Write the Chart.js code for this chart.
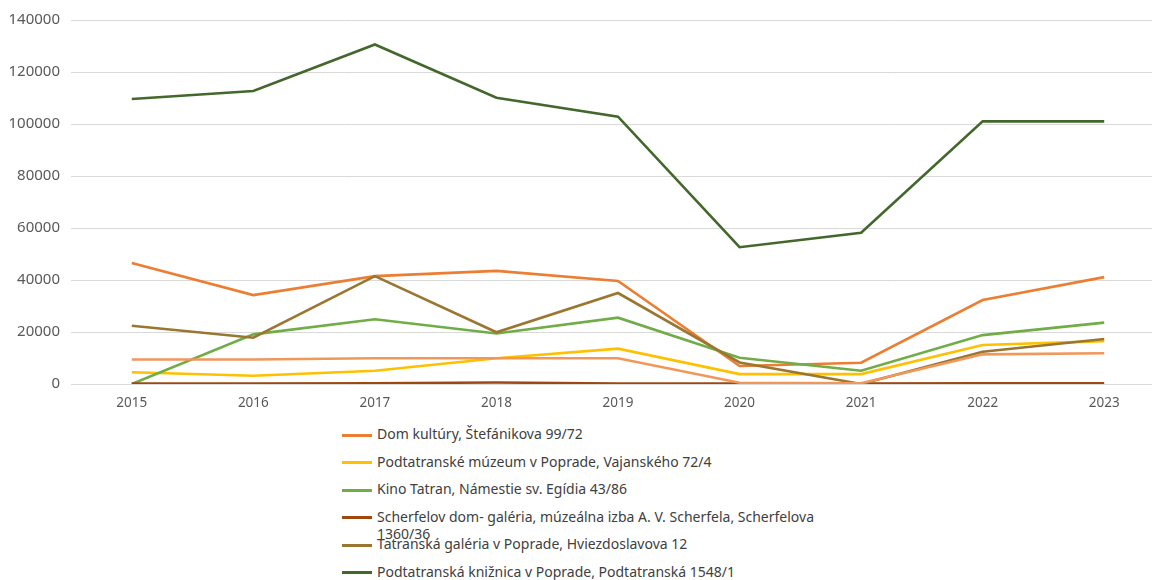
<!DOCTYPE html>
<html>
<head>
<meta charset="utf-8">
<script src="https://cdn.jsdelivr.net/npm/chart.js"></script>
<style>
	html, body { margin: 0; padding: 0; background: #fff; overflow: hidden; }
	#page { position: relative; width: 1152px; height: 580px; overflow: hidden; }
	#chart-box { position: absolute; left: 0; top: 0; width: 1165px; height: 410px; }
	#legend { position: absolute; left: 342px; top: 421px; width: 490px; margin: 0; padding: 0; list-style: none;
		font-family: "Noto Sans", sans-serif; font-size: 14px; color: #404040; }
	#legend li { position: relative; height: 27.5px; }
	#legend .swatch { position: absolute; left: 0; top: 12.5px; width: 30px; height: 3px; }
	#legend .text { position: absolute; left: 35px; top: 4px; line-height: 17px; width: 450px; }
</style>
</head>
<body>
<div id="page">
	<div id="chart-box"><canvas id="visits-chart"></canvas></div>
	<ul id="legend"></ul>
</div>
<script>
"use strict";

// visitors per year and venue
var years = ["2015", "2016", "2017", "2018", "2019", "2020", "2021", "2022", "2023"];

var domKultury      = [46500, 34200, 41500, 43500, 39600, 6900, 8200, 32300, 41100];
var podtatranskeMuz = [4500, 3200, 5100, 9900, 13600, 3800, 3800, 15000, 16500];
var kinoTatran      = [0, 19100, 24900, 19400, 25500, 10100, 5100, 18800, 23600];
var scherfelovDom   = [200, 200, 300, 600, 200, 200, 200, 300, 300];
var tatranskaGal    = [22400, 17800, 41500, 19900, 35000, 8300, 0, 12400, 17300];
var kniznica        = [109600, 112700, 130600, 110100, 102800, 52600, 58200, 101000, 101000];
var dalsieZariad    = [9400, 9400, 9900, 9900, 9900, 500, 300, 11400, 11800];

var seriesLabels = [
	"Dom kultúry, Štefánikova 99/72",
	"Podtatranské múzeum v Poprade, Vajanského 72/4",
	"Kino Tatran, Námestie sv. Egídia 43/86",
	"Scherfelov dom- galéria, múzeálna izba A. V.  Scherfela, Scherfelova 1360/36",
	"Tatranská galéria v Poprade, Hviezdoslavova 12",
	"Podtatranská knižnica v Poprade, Podtatranská 1548/1",
	""
];
var seriesValues = [domKultury, podtatranskeMuz, kinoTatran, scherfelovDom, tatranskaGal, kniznica, dalsieZariad];
var seriesColors = ["#ED7D31", "#FFC000", "#70AD47", "#9E480E", "#9A7630", "#43682B", "#F1975A"];

var yTicks = [0, 20000, 40000, 60000, 80000, 100000, 120000, 140000];

var fontFamily = "'Noto Sans', sans-serif";


// builds the html legend below the chart from the chart datasets
var htmlLegendPlugin = {
	id: "htmlLegend",
	afterUpdate: function(chart) {
		var ul = document.getElementById("legend");
		ul.innerHTML = "";
		chart.data.datasets.forEach(function(ds) {
			if (!ds.label) {
				return;
			}
			var li = document.createElement("li");
			var swatch = document.createElement("span");
			swatch.className = "swatch";
			swatch.style.background = ds.borderColor;
			var text = document.createElement("span");
			text.className = "text";
			text.textContent = ds.label;
			li.appendChild(swatch);
			li.appendChild(text);
			ul.appendChild(li);
		});
	}
};


var datasets = seriesValues.map(function(values, i) {
	return {
		label: seriesLabels[i],
		data: values,
		borderColor: seriesColors[i],
		backgroundColor: seriesColors[i],
		borderWidth: 2.6,
		pointRadius: 0,
		tension: 0,
		order: seriesValues.length - i
	};
});

var ctx = document.getElementById("visits-chart").getContext("2d");
var visitsChart = new Chart(ctx, {
	type: "line",
	data: {
		labels: years,
		datasets: datasets
	},
	options: {
		responsive: true,
		maintainAspectRatio: false,
		animation: false,
		layout: {
			padding: { top: 20, right: 0, bottom: 0, left: 0 }
		},
		plugins: {
			legend: { display: false },
			title: { display: false },
			tooltip: { enabled: true }
		},
		scales: {
			x: {
				offset: true,
				grid: { display: false },
				border: { display: false },
				ticks: {
					color: "#595959",
					font: { family: fontFamily, size: 13.5 },
					padding: 3,
					maxRotation: 0
				},
				afterFit: function(scale) {
					scale.height = 26;
				}
			},
			y: {
				min: 0,
				max: 140000,
				afterBuildTicks: function(scale) {
					scale.ticks = yTicks.map(function(v) { return { value: v }; });
				},
				grid: {
					color: "#D9D9D9",
					lineWidth: 1,
					drawTicks: false
				},
				border: { display: false },
				ticks: {
					color: "#595959",
					font: { family: fontFamily, size: 15 },
					padding: 11,
					callback: function(value) { return String(value); }
				},
				afterFit: function(scale) {
					scale.width = 71;
				}
			}
		}
	},
	plugins: [htmlLegendPlugin]
});
</script>
</body>
</html>
